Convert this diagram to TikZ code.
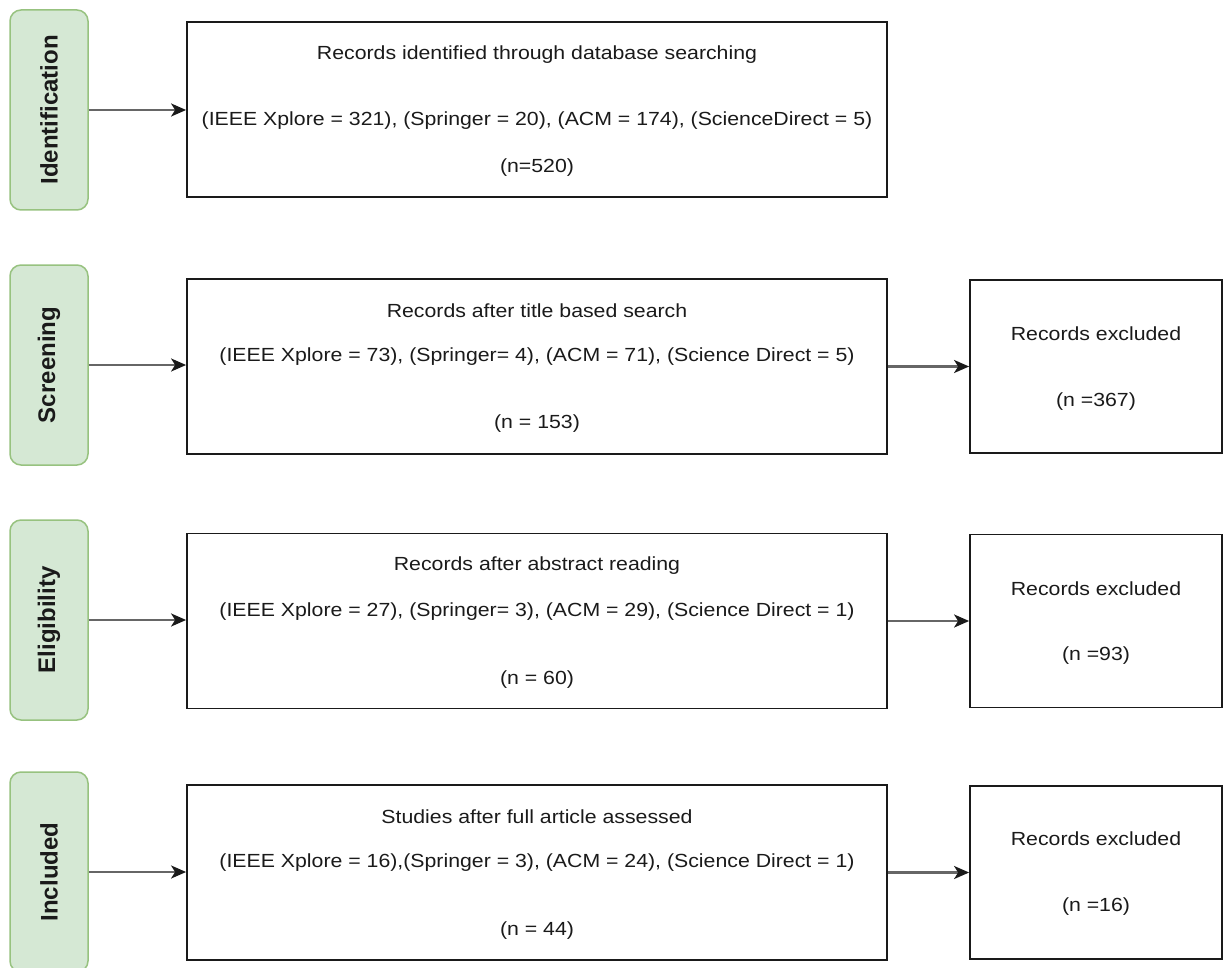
\documentclass[tikz,border=0pt]{standalone}
\usepackage{fontspec}
\setmainfont{Liberation Sans}
\newfontfamily\boxfont{Liberation Sans}[FakeStretch=1.12]
\usetikzlibrary{arrows.meta}
\definecolor{stagefill}{HTML}{D5E8D4}
\definecolor{stageline}{HTML}{97C27F}
\definecolor{edgegray}{HTML}{666666}
\definecolor{ink}{HTML}{1A1A1A}
\begin{document}
\begin{tikzpicture}[x=1pt,y=-1pt,
  stagebox/.style={draw=stageline, fill=stagefill, line width=1.5pt, rounded corners=11pt, minimum width=78pt, minimum height=200pt, inner sep=0pt},
  stagetext/.style={rotate=90, font=\fontsize{24}{28}\selectfont\bfseries, text=ink, inner sep=0pt},
  recbox/.style={draw=ink, line width=1.8pt, inner sep=0pt},
  mainbox/.style={recbox, minimum width=700pt, minimum height=175pt},
  exbox/.style={recbox, minimum width=252pt, minimum height=173pt},
  txt/.style={font=\boxfont\fontsize{19}{23}\selectfont, text=ink, inner sep=0pt},
  flow/.style={draw=edgegray, line width=2.2pt, -{Stealth[length=15pt,width=13pt,inset=4pt,color=ink,fill=ink]}}
]
\useasboundingbox (0,0) rectangle (1225,968);
% stage boxes
\node[stagebox] (s1) at (49,110) {};
\node[stagetext] (s1t) at (s1) {Identification};
\node[stagebox] (s2) at (49,365) {};
\node[stagetext] (s2t) at (s2) {Screening};
\node[stagebox] (s3) at (49,620) {};
\node[stagetext] (s3t) at (s3) {Eligibility};
\node[stagebox] (s4) at (49,872) {};
\node[stagetext] (s4t) at (s4) {Included};
% main boxes
\node[mainbox] (b1) at (537,109.5) {};
\node[mainbox] (b2) at (537,366.5) {};
\node[mainbox] (b3) at (537,621) {};
\node[mainbox] (b4) at (537,872.5) {};
% excluded boxes
\node[exbox] (r2) at (1096,366.5) {};
\node[exbox] (r3) at (1096,621) {};
\node[exbox] (r4) at (1096,872.5) {};
% texts main
\node[txt] (b1a) at (537,55) {Records identified through database searching};
\node[txt] (b1b) at (537,121) {(IEEE Xplore = 321), (Springer = 20), (ACM = 174), (ScienceDirect = 5)};
\node[txt] (b1c) at (537,168) {(n=520)};
\node[txt] (b2a) at (537,311) {Records after title based search};
\node[txt] (b2b) at (537,357) {(IEEE Xplore = 73), (Springer= 4), (ACM = 71), (Science Direct = 5)};
\node[txt] (b2c) at (537,424) {(n = 153)};
\node[txt] (b3a) at (537,566) {Records after abstract reading};
\node[txt] (b3b) at (537,612) {(IEEE Xplore = 27), (Springer= 3), (ACM = 29), (Science Direct = 1)};
\node[txt] (b3c) at (537,680) {(n = 60)};
\node[txt] (b4a) at (537,817) {Studies after full article assessed};
\node[txt] (b4b) at (537,863) {(IEEE Xplore = 16),(Springer = 3), (ACM = 24), (Science Direct = 1)};
\node[txt] (b4c) at (537,931) {(n = 44)};
% texts excluded
\node[txt] (r2a) at (1096,334) {Records excluded};
\node[txt] (r2b) at (1096,402) {(n =367)};
\node[txt] (r3a) at (1096,589) {Records excluded};
\node[txt] (r3b) at (1096,656) {(n =93)};
\node[txt] (r4a) at (1096,839) {Records excluded};
\node[txt] (r4b) at (1096,907) {(n =16)};
% connectors
\draw[flow] (s1.east) -- (s1.east -| b1.west);
\draw[flow] (s2.east) -- (s2.east -| b2.west);
\draw[flow] (s3.east) -- (s3.east -| b3.west);
\draw[flow] (s4.east) -- (s4.east -| b4.west);
\draw[flow] (b2.east) -- (r2.west);
\draw[flow] (b3.east) -- (r3.west);
\draw[flow] (b4.east) -- (r4.west);
\end{tikzpicture}
\end{document}
